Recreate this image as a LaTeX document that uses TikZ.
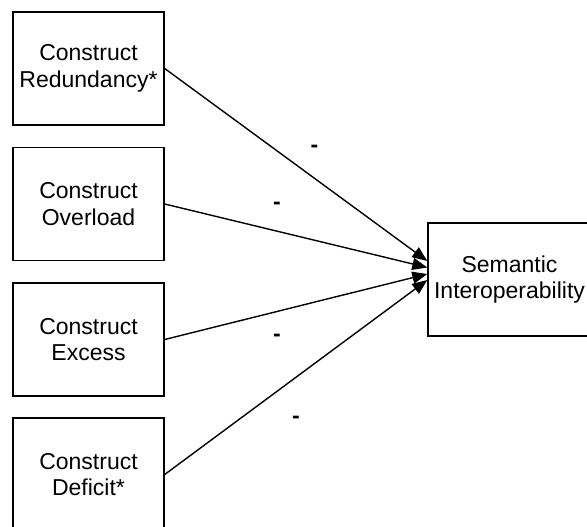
\documentclass[tikz,border=0pt]{standalone}
\usepackage{fontspec}
\setmainfont{Liberation Sans}
\usetikzlibrary{arrows.meta}
\begin{document}
\begin{tikzpicture}[x=1pt,y=-1pt,
  box/.style={draw, line width=1.4pt, minimum width=151pt, minimum height=113pt,
    align=center, inner sep=0pt, font=\fontsize{23}{26.5}\selectfont},
  link/.style={line width=1.4pt, -{Triangle[length=15pt,width=12pt]}},
  sign/.style={anchor=base, inner sep=0pt, font=\fontsize{23}{26.5}\selectfont\bfseries}]
\useasboundingbox (0,0) rectangle (587,527);
\begin{scope}
\clip (0,0) rectangle (587,527);
\node[box] (red) at (88.5,68.5) {Construct\\Redundancy*};
\node[box] (ovl) at (88.5,204) {Construct\\Overload};
\node[box] (exc) at (88.5,339.5) {Construct\\Excess};
\node[box] (def) at (88.5,474.5) {Construct\\Deficit*};
\node[box, minimum width=163pt] (si) at (509.5,279.5) {Semantic\\Interoperability};
\end{scope}
% arrow tips spread along the west side of the target box
\coordinate (t1) at ([yshift=18.5pt]si.west);
\coordinate (t2) at ([yshift=12pt]si.west);
\coordinate (t3) at ([yshift=5.5pt]si.west);
\coordinate (t4) at ([yshift=-0.5pt]si.west);
\draw[link] (red.east) -- (t1);
\draw[link] (ovl.east) -- (t2);
\draw[link] (exc.east) -- (t3);
\draw[link] (def.east) -- (t4);
\node[sign] (s1) at (314.5,153) {-};
\node[sign] (s2) at (277,209) {-};
\node[sign] (s3) at (277,341.3) {-};
\node[sign] (s4) at (296,423) {-};
\end{tikzpicture}
\end{document}
